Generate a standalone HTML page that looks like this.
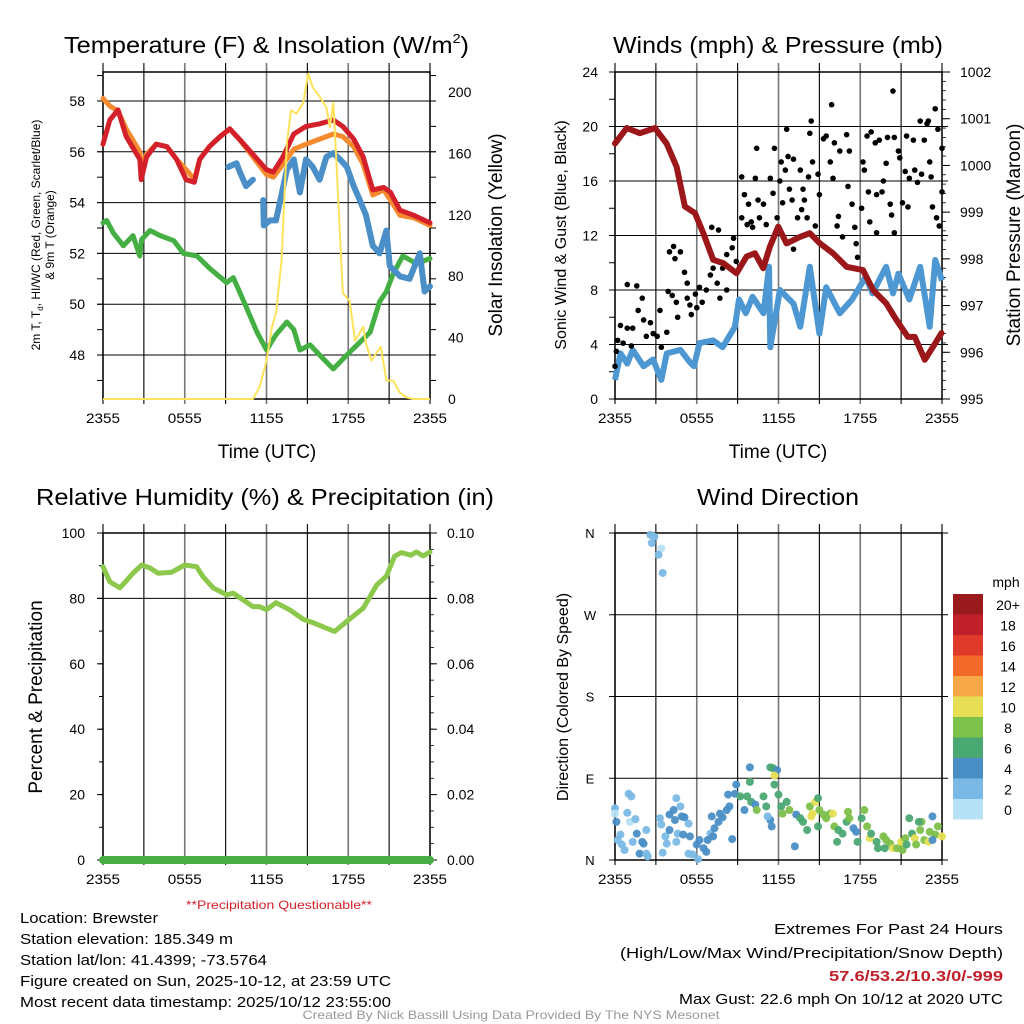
<!DOCTYPE html>
<html><head><meta charset="utf-8"><style>
html,body{margin:0;padding:0;background:#fff;}
svg{display:block;font-family:"Liberation Sans",sans-serif;}
</style></head><body>
<svg id="chart" xmlns="http://www.w3.org/2000/svg" width="1024" height="1024" viewBox="0 0 1024 1024"></svg>
<script>
// ---------- Panel 1: temperature ----------
const tTime=[0,0.5,1.1,1.7,2.7,2.8,3.2,3.9,4.7,5.4,6.1,6.7,7.1,7.8,8.6,9.3,10.0,11.0,12.0,12.5,13.2,14.0,14.9,15.9,16.9,17.6,18.4,19.1,19.8,20.6,21.1,21.8,22.8,24];
const tempRed=[56.3,57.25,57.65,56.6,55.7,54.9,55.8,56.3,56.2,55.7,54.9,54.8,55.7,56.2,56.6,56.9,56.5,55.9,55.3,55.2,55.8,56.7,57.0,57.1,57.25,57.0,56.5,55.8,54.5,54.6,54.4,53.7,53.5,53.2];
const tempOrange=[58.1,57.8,57.6,56.9,56.0,55.5,55.9,56.3,56.2,55.7,55.3,54.9,55.7,56.2,56.6,56.9,56.5,55.8,55.1,55.0,55.5,56.1,56.3,56.5,56.7,56.6,56.2,55.5,54.3,54.5,54.1,53.5,53.4,53.1];
const dewTime=[0,0.27,0.76,1.5,2.2,2.7,2.84,3.45,4.2,5.2,5.9,6.9,7.85,9.07,9.56,10.5,11.3,12.0,12.7,13.5,14.0,14.45,15.2,15.9,16.9,17.9,18.85,19.6,20.3,20.8,21.3,22.0,23.0,24];
const dewGreen=[53.2,53.3,52.8,52.3,52.7,51.9,52.55,52.9,52.7,52.5,52.0,51.9,51.4,50.85,51.05,49.9,48.9,48.2,48.8,49.3,49.0,48.2,48.4,48.0,47.45,48.0,48.5,48.9,50.1,50.5,51.2,51.9,51.6,51.8];
const hiTime=[9.2,9.8,10.05,10.5,11.0,null,11.76,11.8,12.25,12.7,13.5,14.0,14.45,14.9,15.4,15.9,16.4,16.9,17.4,17.9,18.4,18.85,19.3,19.8,20.3,20.8,21.05,21.8,22.5,23.25,23.6,24];
const hiBlue=[55.4,55.55,55.2,54.65,54.9,null,54.1,53.1,53.3,53.3,55.3,55.7,54.4,55.7,55.4,54.9,55.8,55.95,55.7,55.4,54.65,54.1,53.5,52.3,52.0,52.9,51.5,51.1,51.0,52.0,50.5,50.7];
const solTime=[0,11.0,11.5,12.0,12.4,12.7,13.1,13.5,13.8,14.2,14.7,15.06,15.4,15.9,16.4,16.65,16.9,17.1,17.6,18.1,18.5,19.1,19.3,19.7,20.07,20.4,20.8,21.3,21.8,22.3,22.8,24];
const solar=[0,0,8,25,47,56,90,167,188,186,193,212,203,197,190,177,193,160,69,64,38,47,36,25,30,34,12,12,4,1,0,0];
const p1LeftTicks=[48,50,52,54,56,58];
const p1RightTicks=[0,40,80,120,160,200];
const xTickLabels=["2355","0555","1155","1755","2355"];
// ---------- Panel 2: winds ----------
const presTime=[0,0.86,1.83,2.93,3.79,4.52,5.13,5.87,6.48,7.21,7.95,8.92,9.66,10.27,10.88,11.37,11.98,12.59,13.57,14.3,15.04,16.0,17.0,18.2,18.95,19.9,20.66,21.5,22.0,22.74,23.35,23.96];
const pressure=[1000.47,1000.8,1000.69,1000.8,1000.47,999.97,999.12,998.98,998.55,997.98,997.91,997.69,998.05,998.12,997.8,998.26,998.69,998.33,998.47,998.55,998.33,998.12,997.83,997.76,997.33,997.05,996.69,996.33,996.33,995.84,996.12,996.41];
const windTime=[0,0.4,0.9,1.3,2.1,2.8,3.4,3.8,4.8,5.5,5.8,6.2,7.2,7.9,8.8,9.1,9.6,10.1,10.9,11.3,11.4,12.1,13.1,13.6,14.3,15.0,15.5,16.5,17.4,18.4,18.9,19.9,20.4,20.8,21.6,22.4,23.1,23.5,24];
const windSpeed=[1.4,3.35,2.6,3.6,2.4,2.9,1.4,3.35,3.6,2.7,2.4,4.1,4.3,3.8,5.3,7.3,6.3,7.5,6.3,9.7,3.8,8.0,7.0,5.3,9.7,4.8,8.2,6.3,7.3,8.97,7.75,9.7,7.75,9.2,7.3,9.7,5.3,10.2,8.7];
const gustTime=[0,0.1,0.2,0.4,0.6,0.9,0.9,1.2,1.3,1.6,1.7,2.0,2.1,2.3,2.6,2.8,3.1,3.3,3.4,3.8,4.0,4.3,4.4,4.8,3.9,4.2,4.5,4.6,5.1,5.3,5.3,5.5,5.6,5.9,6.0,6.2,6.4,6.7,7.1,7.0,7.2,7.5,7.6,7.7,7.9,8.2,8.2,8.6,8.7,8.9,9.3,9.3,9.5,9.7,9.8,10.0,10.1,10.3,10.4,10.5,10.6,10.9,11.1,11.4,11.6,11.7,11.9,12.1,12.2,12.3,12.5,12.6,12.7,12.8,13.0,13.1,13.1,13.4,13.6,13.7,13.8,13.9,14.1,14.2,14.3,14.4,14.5,14.7,14.9,15.0,15.3,15.5,15.8,15.9,16.0,16.1,16.3,16.4,16.5,16.7,17.0,17.1,17.2,17.4,17.6,17.7,17.8,18.1,18.2,18.3,18.5,18.6,18.7,18.8,19.1,19.2,19.2,19.4,19.6,19.7,19.9,20.0,20.2,20.3,20.4,20.5,20.5,20.8,20.9,21.1,21.3,21.4,21.5,21.6,21.9,22.0,22.2,22.4,22.5,22.7,22.9,23.0,23.1,23.2,23.3,23.5,23.6,23.7,23.8,24.0,24.0];
const gustSpeed=[2.4,3.5,4.3,5.4,4.1,5.2,8.4,3.9,5.2,8.3,6.5,7.4,5.8,4.6,5.6,4.8,4.6,6.5,3.8,4.9,10.8,11.2,10.3,10.8,7.9,7.6,7.1,6.0,9.3,8.5,7.4,6.9,6.2,7.7,6.7,8.2,7.1,8.0,12.6,9.1,9.6,8.5,12.4,7.4,9.6,10.6,8.0,11.1,11.8,10.1,13.3,16.3,15.0,12.8,14.3,13.0,12.6,16.2,18.4,14.6,13.3,14.3,12.8,16.2,15.1,18.4,13.3,16.0,17.4,14.4,16.8,19.8,17.8,15.4,14.6,11.0,17.6,13.3,16.8,13.9,15.4,14.6,13.3,16.3,19.5,20.4,17.4,12.7,16.5,15.0,19.1,19.3,17.4,21.6,16.2,18.8,12.7,13.4,18.2,11.9,19.4,15.6,18.2,14.3,12.6,11.4,10.4,14.0,17.4,16.8,19.3,15.2,13.0,19.6,18.8,15.0,12.2,19.0,15.2,16.0,17.3,19.2,14.3,13.5,22.6,19.2,12.2,18.2,17.7,14.4,16.7,19.3,14.1,16.2,19.0,16.8,15.9,20.4,16.5,19.0,20.2,20.4,17.4,16.3,14.1,21.3,13.3,19.8,12.7,18.4,15.2];
const p2LeftTicks=[0,4,8,12,16,20,24];
const p2RightTicks=[995,996,997,998,999,1000,1001,1002];
// ---------- Panel 3: RH ----------
const rhTime=[0,0.5,1.25,2.2,2.84,3.45,4.06,5.04,6.0,6.87,7.36,8.09,9.07,9.56,10.3,11.0,11.5,12.0,12.7,13.7,14.7,15.4,16.4,17.0,17.9,19.1,19.6,20.1,20.8,21.4,21.9,22.6,23.0,23.5,24];
const rh=[89.7,85.1,83.2,87.7,90.2,89.3,87.7,88,90.2,89.7,86.5,83.2,81.1,81.6,79.5,77.5,77.5,76.5,78.7,76.5,73.6,72.6,70.9,69.9,73,77,80.6,84.2,86.8,92.9,94,93.2,94.2,93,94.2];
const precipTime=[0,24];
const precip=[0,0];
const p3LeftTicks=[0,20,40,60,80,100];
const p3RightTicks=["0.00","0.02","0.04","0.06","0.08","0.10"];
// ---------- Panel 4: wind direction ----------
const dirTime=[2.6,2.9,2.7,3.4,3.2,3.5,0,0,0.1,1.0,1.2,0.9,1.1,1.5,0.2,0.5,0.7,0.4,1.3,1.6,2.0,1.8,2.3,2.3,2.4,2.1,3.3,3.4,3.7,3.8,3.5,4.0,4.3,4.5,4.8,4.9,5.1,4.4,4.0,4.6,5.0,5.4,5.5,4.5,5.4,5.7,6.1,6.0,6.2,6.5,6.7,7.0,6.8,7.2,7.3,7.1,7.6,7.7,7.9,8.2,8.4,8.3,8.8,8.9,8.6,9.2,9.9,9.9,9.7,10.0,10.3,10.4,9.5,10.9,11.1,11.4,11.5,11.2,11.4,11.6,11.9,11.7,11.7,12.0,12.2,12.3,12.6,12.8,13.3,13.6,13.8,14.1,13.2,14.3,14.7,14.9,14.5,14.4,15.0,15.3,15.5,15.8,16.0,16.1,16.4,16.7,17.0,17.1,17.2,17.5,17.7,18.1,18.3,18.5,18.7,18.8,19.2,19.3,19.7,19.9,20.2,20.4,20.7,21.0,21.3,21.6,21.8,22.0,22.4,22.5,22.7,23.0,23.1,23.3,23.5,23.7,24.0,23.3,14.9,16.3,17.8,19.8,21.1,21.4,22.1,22.3];
const dirDeg=[358,356,349,343,336,316,57,51,42,73,70,52,42,45,22,17,11,28,20,29,20,7,33,7,4,18,46,39,26,18,8,50,55,68,59,48,47,44,33,29,28,40,26,20,7,6,1,17,22,13,9,29,22,26,35,48,42,51,47,55,59,72,73,83,23,70,102,86,70,64,61,55,55,70,59,44,37,48,102,101,99,93,83,72,59,51,64,55,50,46,42,33,15,59,64,68,51,48,55,50,46,51,51,37,33,29,42,53,46,35,31,46,55,37,24,29,20,13,26,22,18,13,13,20,24,46,29,24,33,42,22,20,31,48,28,37,26,22,37,20,20,13,11,17,17,42];
const dirSpeed=[3,3,3,1,3,3,3,1,5,3,3,3,1,3,3,3,3,3,3,5,5,5,3,3,3,5,3,3,3,3,3,5,5,3,3,5,5,5,5,3,5,3,5,3,3,3,3,5,5,5,5,3,5,5,5,5,5,5,5,5,5,5,5,5,5,7,5,7,7,7,5,9,5,7,7,5,5,3,7,7,5,11,7,7,7,9,7,9,5,7,7,7,5,9,11,7,11,11,9,9,9,9,11,9,7,7,7,9,9,5,5,7,9,9,11,7,7,7,9,9,9,11,9,11,9,7,7,11,9,9,9,11,9,5,9,9,11,5,7,7,7,7,9,7,9,7];
const speedBins=["0","2","4","6","8","10","12","14","16","18","20+"];
const dirTicks=["N","E","S","W","N"];

const NS="http://www.w3.org/2000/svg";
const svg=document.getElementById('chart');
function mk(tag,attrs,parent){const e=document.createElementNS(NS,tag);for(const k in attrs)e.setAttribute(k,attrs[k]);(parent||svg).appendChild(e);return e;}
function txt(s,x,y,size,anchor,parent,extra){const e=mk('text',Object.assign({x:x,y:y,'font-size':size,'text-anchor':anchor||'middle',fill:'#000'},extra||{}),parent);e.textContent=s;return e;}

const P={
 p1:{x0:103,x1:430,y0:72,y1:399},
 p2:{x0:615,x1:942,y0:72,y1:399},
 p3:{x0:103,x1:430,y0:533,y1:860},
 p4:{x0:615,x1:942,y0:533,y1:860}
};
function xs(p,t){return p.x0+(p.x1-p.x0)*t/24;}
function lin(p,v,lo,hi){return p.y1-(p.y1-p.y0)*(v-lo)/(hi-lo);}

function grid(p,name,nh){
 const g=mk('g',{});
 
 
 for(let i=0;i<=8;i++){const x=p.x0+(p.x1-p.x0)*i/8;
  mk('line',{x1:x,y1:p.y0-9,x2:x,y2:p.y1+5,stroke:(i%2==0&&i>0&&i<8)?'#777':'#000','stroke-width':(i%2==0&&i>0&&i<8)?1.6:1.1},g);}
 for(let j=0;j<nh.length;j++){mk('line',{x1:p.x0-6,y1:nh[j],x2:p.x1+6,y2:nh[j],stroke:'#000','stroke-width':1},g);}
 mk('rect',{x:p.x0,y:p.y0,width:p.x1-p.x0,height:p.y1-p.y0,fill:'none',stroke:'#000','stroke-width':1.5},g);
 const lab=mk('g',{});
 
 
 for(let i=0;i<xTickLabels.length;i++){txt(xTickLabels[i],p.x0+(p.x1-p.x0)*i/4,p.y1+24,14,'middle',lab,{textLength:34,lengthAdjust:'spacingAndGlyphs'});}
}
function pathFrom(ts,vs,fx,fy){let d='',pen=false;for(let i=0;i<ts.length;i++){if(ts[i]===null||vs[i]===null){pen=false;continue;}d+=(pen?'L':'M')+fx(ts[i]).toFixed(1)+' '+fy(vs[i]).toFixed(1)+' ';pen=true;}return d;}

// ---- titles ----
let t;
t=mk('text',{x:64,y:53,'font-size':23,'text-anchor':'start',fill:'#000',textLength:405,lengthAdjust:'spacingAndGlyphs'});


t.innerHTML='Temperature (F) &amp; Insolation (W/m<tspan font-size="13" dy="-10">2</tspan><tspan dy="10">)</tspan>';
t=txt('Winds (mph) & Pressure (mb)',778,53,23,'middle',null,{textLength:330,lengthAdjust:'spacingAndGlyphs'});
t=txt('Relative Humidity (%) & Precipitation (in)',265,505,23,'middle',null,{textLength:458,lengthAdjust:'spacingAndGlyphs'});
t=txt('Wind Direction',778,505,23,'middle',null,{textLength:162,lengthAdjust:'spacingAndGlyphs'});

// ================= Panel 1 =================
const p1=P.p1, T0=46.27, T1=59.14;
const fy1=v=>lin(p1,v,T0,T1), fyS=v=>399-v*1.535, fx1=v=>xs(p1,v);
grid(p1,'temperature',p1LeftTicks.map(fy1));
const p1l=mk('g',{});
p1LeftTicks.forEach(v=>{txt(String(v),85,fy1(v)+5,14,'end',p1l);});
for(let v=47;v<=59;v++){mk('line',{x1:97,x2:103,y1:fy1(v),y2:fy1(v),stroke:'#000'},p1l);mk('line',{x1:430,x2:436,y1:fy1(v),y2:fy1(v),stroke:'#000'},p1l);}
const p1r=mk('g',{});
p1RightTicks.forEach(v=>{txt(String(v),448,fyS(v)+5,14,'start',p1r);});
t=mk('text',{x:0,y:0,'font-size':12,'text-anchor':'middle',fill:'#000',transform:'translate(40,235) rotate(-90)'});


t.innerHTML='<tspan>2m T, T</tspan><tspan font-size="8" dy="3">d</tspan><tspan dy="-3">, HI/WC (Red, Green, Scarlet/Blue)</tspan>';
t=txt('& 9m T (Orange)',0,0,12,'middle',null,{transform:'translate(54,235) rotate(-90)'});
t=txt('Solar Insolation (Yellow)',0,0,19,'middle',null,{transform:'translate(502,235) rotate(-90)'});
t=txt('Time (UTC)',267,458,19);
let s;
s=mk('path',{d:pathFrom(tTime,tempOrange,fx1,fy1),fill:'none',stroke:'#f58a2e','stroke-width':5,'stroke-linejoin':'round','stroke-linecap':'round'});
s=mk('path',{d:pathFrom(tTime,tempRed,fx1,fy1),fill:'none',stroke:'#d3202a','stroke-width':5,'stroke-linejoin':'round','stroke-linecap':'round'});
s=mk('path',{d:pathFrom(dewTime,dewGreen,fx1,fy1),fill:'none',stroke:'#44b043','stroke-width':5,'stroke-linejoin':'round','stroke-linecap':'round'});
s=mk('path',{d:pathFrom(hiTime,hiBlue,fx1,fy1),fill:'none',stroke:'#4a8fc8','stroke-width':6,'stroke-linejoin':'round','stroke-linecap':'round'});
s=mk('path',{d:pathFrom(solTime,solar,fx1,fyS),fill:'none',stroke:'#fde35a','stroke-width':2,'stroke-linejoin':'round'});

// ================= Panel 2 =================
const p2=P.p2;
const fy2=v=>lin(p2,v,0,24), fyP=v=>lin(p2,v,995,1002), fx2=v=>xs(p2,v);
grid(p2,'winds',p2LeftTicks.map(fy2));
const p2l=mk('g',{});
p2LeftTicks.forEach(v=>{txt(String(v),598,fy2(v)+5,14,'end',p2l);});
for(let v=0;v<=24;v+=2){mk('line',{x1:609,x2:615,y1:fy2(v),y2:fy2(v),stroke:'#000'},p2l);}
const p2r=mk('g',{});
p2RightTicks.forEach(v=>{txt(String(v),960,fyP(v)+5,14,'start',p2r);mk('line',{x1:942,x2:950,y1:fyP(v),y2:fyP(v),stroke:'#000'},p2r);});
for(let v=995;v<=1002;v+=0.2){mk('line',{x1:942,x2:946,y1:fyP(v),y2:fyP(v),stroke:'#000','stroke-width':0.8},p2r);}
t=txt('Sonic Wind & Gust (Blue, Black)',0,0,16,'middle',null,{transform:'translate(566,235) rotate(-90)'});
t=txt('Station Pressure (Maroon)',0,0,19,'middle',null,{transform:'translate(1020,235) rotate(-90)'});
t=txt('Time (UTC)',778,458,19);
s=mk('path',{d:pathFrom(windTime,windSpeed,fx2,fy2),fill:'none',stroke:'#4d97d2','stroke-width':6,'stroke-linejoin':'round'});
const gg=mk('g',{});
for(let i=0;i<gustTime.length;i++){const c=mk('circle',{cx:fx2(gustTime[i]),cy:fy2(gustSpeed[i]),r:2.8,fill:'#000'},gg);

}
s=mk('path',{d:pathFrom(presTime,pressure,fx2,fyP),fill:'none',stroke:'#9b1719','stroke-width':6,'stroke-linejoin':'round','stroke-linecap':'round'});

// ================= Panel 3 =================
const p3=P.p3;
const fy3=v=>lin(p3,v,0,100), fx3=v=>xs(p3,v), fyPr=v=>lin(p3,v,0,0.1);
grid(p3,'humidity',[fy3(80)]);
const p3l=mk('g',{});
p3LeftTicks.forEach(v=>{txt(String(v),85,fy3(v)+5,14,'end',p3l);mk('line',{x1:97,x2:103,y1:fy3(v),y2:fy3(v),stroke:'#000'},p3l);});
for(let v=0;v<=100;v+=10){mk('line',{x1:99,x2:103,y1:fy3(v),y2:fy3(v),stroke:'#000'},p3l);}
const p3r=mk('g',{});
p3RightTicks.forEach((v,i)=>{txt(v,447,fyPr(i*0.02)+5,14,'start',p3r);mk('line',{x1:430,x2:437,y1:fyPr(i*0.02),y2:fyPr(i*0.02),stroke:'#000'},p3r);});
for(let v=0;v<=0.1001;v+=0.005){mk('line',{x1:430,x2:434,y1:fyPr(v),y2:fyPr(v),stroke:'#000','stroke-width':0.8},p3r);}
t=txt('Percent & Precipitation',0,0,19,'middle',null,{transform:'translate(42,697) rotate(-90)'});
s=mk('path',{d:pathFrom(rhTime,rh,fx3,fy3),fill:'none',stroke:'#8cc84b','stroke-width':5,'stroke-linejoin':'round','stroke-linecap':'round'});
s=mk('path',{d:pathFrom(precipTime,precip,fx3,fyPr),fill:'none',stroke:'#48ad44','stroke-width':8,'stroke-linecap':'round'});
t=txt('**Precipitation Questionable**',279,909,12,'middle',null,{fill:'#d3202a',textLength:186,lengthAdjust:'spacingAndGlyphs'});

// ================= Panel 4 =================
const p4=P.p4;
const fy4=v=>lin(p4,v,0,360), fx4=v=>xs(p4,v);
grid(p4,'wind-direction',[0,90,180,270,360].map(fy4));
const p4l=mk('g',{});
dirTicks.forEach((v,i)=>{txt(v,590,fy4(i*90)+5,13,'middle',p4l);});
t=txt('Direction (Colored By Speed)',0,0,16,'middle',null,{transform:'translate(568,697) rotate(-90)'});
const binColors=['#b6e1f6','#7ab9e5','#4a8ec6','#4aa873','#7dc04a','#e6df55','#f9a848','#f26a2a','#e03a2a','#c0202a','#9b1a1d'];
function colorFor(sp){let i=Math.floor(sp/2);if(i>10)i=10;if(i<0)i=0;return binColors[i];}
const dg=mk('g',{});
for(let i=0;i<dirTime.length;i++){const c=mk('circle',{cx:fx4(dirTime[i]),cy:fy4(dirDeg[i]),r:4,fill:colorFor(dirSpeed[i]),'fill-opacity':0.95},dg);

}
const lg=mk('g',{});
txt('mph',1006,587,14,'middle',lg);
for(let i=0;i<speedBins.length;i++){const k=speedBins.length-1-i;const y=594+i*20.5;
 const r=mk('rect',{x:953,y:y,width:30,height:20.5,fill:binColors[k]},lg);
 
 
 txt(speedBins[k],1008,y+16,14,'middle',lg);}

// ---- footer ----
const fl=[["Location: Brewster",923,138],["Station elevation: 185.349 m",944,213],["Station lat/lon: 41.4399; -73.5764",965,247],["Figure created on Sun, 2025-10-12, at 23:59 UTC",986,371],["Most recent data timestamp: 2025/10/12 23:55:00",1007,371]];
const fg=mk('g',{});
fl.forEach(l=>{txt(l[0],20,l[1],15,'start',fg,{textLength:l[2],lengthAdjust:'spacingAndGlyphs'});});
const fr=mk('g',{});
txt('Extremes For Past 24 Hours',1003,934,15,'end',fr,{textLength:229,lengthAdjust:'spacingAndGlyphs'});
txt('(High/Low/Max Wind/Precipitation/Snow Depth)',1003,958,15,'end',fr,{textLength:383,lengthAdjust:'spacingAndGlyphs'});
txt('57.6/53.2/10.3/0/-999',1003,981,15,'end',fr,{fill:'#c0202a','font-weight':'bold',textLength:174,lengthAdjust:'spacingAndGlyphs'});
txt('Max Gust: 22.6 mph On 10/12 at 2020 UTC',1003,1004,15,'end',fr,{textLength:324,lengthAdjust:'spacingAndGlyphs'});
t=txt('Created By Nick Bassill Using Data Provided By The NYS Mesonet',511,1019,12,'middle',null,{fill:'#999',textLength:417,lengthAdjust:'spacingAndGlyphs'});
</script>
</body></html>
